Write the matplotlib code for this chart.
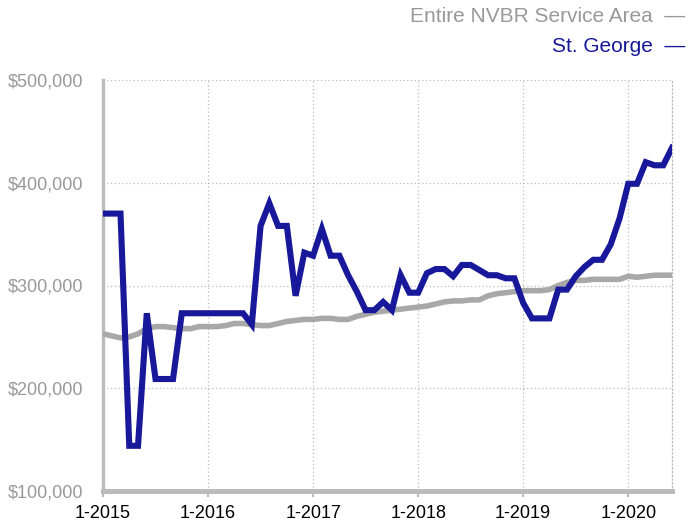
import numpy as np
import matplotlib
matplotlib.use("Agg")
import matplotlib.pyplot as plt

plt.rcParams['font.family'] = ['Liberation Sans', 'DejaVu Sans']

# monthly median price, Jan 2015 .. Jun 2020 (thousands of $)
st_george = [370, 370, 370, 144, 144, 273, 209, 209, 209, 273,
             273, 273, 273, 273, 273, 273, 273, 262, 358, 380,
             358, 358, 290, 332, 329, 355, 329, 329, 310, 294,
             276, 276, 284, 276, 310, 293, 293, 312, 316, 316,
             309, 320, 320, 315, 310, 310, 307, 307, 283, 268,
             268, 268, 296, 296, 309, 318, 325, 325, 340, 365,
             399, 399, 420, 417, 417, 434]
nvbr_area = [253, 251, 249, 250, 253, 258, 260, 260, 259, 258,
             258, 260, 260, 260, 261, 263, 263, 262, 261, 261,
             263, 265, 266, 267, 267, 268, 268, 267, 267, 270,
             272, 274, 275, 276, 277, 278, 279, 280, 282, 284,
             285, 285, 286, 286, 290, 292, 293, 294, 295, 295,
             295, 296, 300, 303, 305, 305, 306, 306, 306, 306,
             309, 308, 309, 310, 310, 310]
year_labels = ['1-2015', '1-2016', '1-2017', '1-2018', '1-2019', '1-2020']
y_ticks = [100000, 200000, 300000, 400000, 500000]

blue = '#18189a'
gray = '#a8a8a8'

months = np.arange(len(st_george))
fig = plt.figure(figsize=(6.89, 5.23), dpi=100)
ax = fig.add_axes([103 / 689, 32 / 523, 569 / 689, 411 / 523])

ax.plot(months, np.array(nvbr_area) * 1000, color=gray, lw=4.0,
        solid_joinstyle='miter', zorder=3)
ax.plot(months, np.array(st_george) * 1000, color=blue, lw=4.4,
        solid_joinstyle='miter', zorder=4)

ax.set_xlim(0, len(st_george) - 1)
ax.set_ylim(100000, 500000)
ax.set_xticks(np.arange(len(year_labels)) * 12)
ax.set_xticklabels(year_labels, fontsize=13, color='black')
ax.set_yticks(y_ticks)
ax.set_yticklabels(['${:,}'.format(v) for v in y_ticks], fontsize=13, color='#999999')

ax.grid(True, color='#bbbbbb', ls=(0, (1, 2)), lw=0.9)
ax.spines['top'].set_visible(False)
ax.spines['right'].set_color('#bbbbbb')
ax.spines['right'].set_linestyle((0, (1, 2)))
ax.spines['right'].set_linewidth(0.9)
ax.spines['left'].set_color('#bbbbbb')
ax.spines['left'].set_linewidth(2.4)
ax.spines['bottom'].set_color('#bbbbbb')
ax.spines['bottom'].set_linewidth(3.6)
ax.tick_params(axis='x', length=4, width=1.5, color='#bbbbbb', pad=6)
ax.tick_params(axis='y', length=0, pad=14)

fig.text(685 / 689, 1 - 17 / 523, 'Entire NVBR Service Area  \u2014', ha='right', va='center',
         fontsize=15, color='#999999')
fig.text(685 / 689, 1 - 47 / 523, 'St. George  \u2014', ha='right', va='center',
         fontsize=15, color=blue)

fig.savefig('out.png', dpi=100)
